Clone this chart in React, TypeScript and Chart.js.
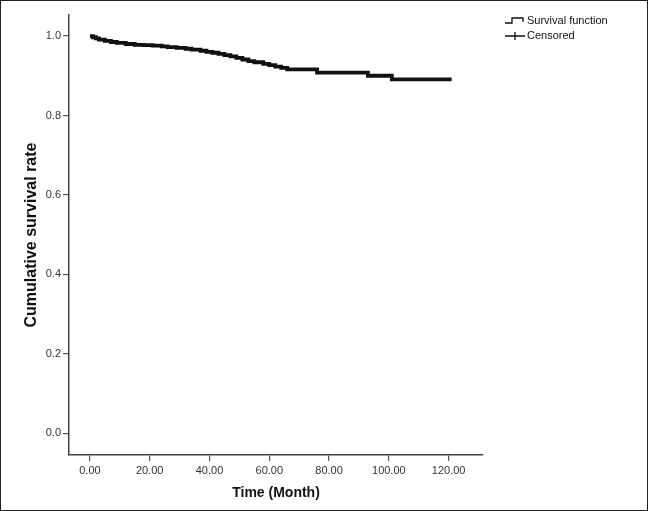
import React, { useEffect, useRef } from "react";
import { Chart, registerables } from "chart.js";
Chart.register(...registerables);

const months = [0, 1, 2, 3, 5, 7, 9, 12, 15, 18, 21, 24, 26, 29, 32, 34, 37, 39, 41, 43, 45, 47, 49, 51, 53, 55, 58, 60, 62, 64, 66, 76, 93, 101, 121];
const survival = [1.0, 0.997, 0.994, 0.991, 0.988, 0.985, 0.983, 0.98, 0.978, 0.977, 0.976, 0.974, 0.972, 0.97, 0.968, 0.966, 0.963, 0.96, 0.958, 0.955, 0.952, 0.949, 0.945, 0.941, 0.937, 0.934, 0.93, 0.927, 0.923, 0.92, 0.916, 0.908, 0.9, 0.891, 0.891];
const xTicks = [0, 20, 40, 60, 80, 100, 120];
const yTicks = [0, 0.2, 0.4, 0.6, 0.8, 1.0];
const legendLabels = ["Survival function", "Censored"];
const xTitle = "Time (Month)";
const yTitle = "Cumulative survival rate";

const FONT = '"Liberation Sans", Arial, Helvetica, sans-serif';

const decor = {
  id: "decor",
  beforeDraw(chart: any) {
    const ctx = chart.ctx;
    ctx.save();
    ctx.fillStyle = "#fff";
    ctx.fillRect(0, 0, chart.width, chart.height);
    ctx.restore();
  },
  afterDraw(chart: any) {
    const ctx = chart.ctx;
    ctx.save();
    ctx.strokeStyle = "#222";
    ctx.lineWidth = 1;
    ctx.strokeRect(0.5, 0.5, chart.width - 1, chart.height - 1);
    ctx.strokeStyle = "#111";
    ctx.lineWidth = 1.3;
    ctx.beginPath();
    ctx.moveTo(505, 23);
    ctx.lineTo(512, 23);
    ctx.lineTo(512, 18);
    ctx.lineTo(523, 18);
    ctx.lineTo(523, 22);
    ctx.stroke();
    ctx.beginPath();
    ctx.moveTo(505, 36);
    ctx.lineTo(525, 36);
    ctx.moveTo(515, 32);
    ctx.lineTo(515, 40);
    ctx.stroke();
    ctx.fillStyle = "#111";
    ctx.font = "11px " + FONT;
    ctx.textBaseline = "middle";
    ctx.textAlign = "left";
    ctx.fillText(legendLabels[0], 527, 21);
    ctx.fillText(legendLabels[1], 527, 36);
    ctx.restore();
  },
};

export default function App() {
  const ref = useRef<HTMLCanvasElement>(null);
  useEffect(() => {
    document.body.style.margin = "0";
    const chart = new Chart(ref.current as HTMLCanvasElement, {
      type: "line",
      data: {
        datasets: [
          {
            label: legendLabels[0],
            data: months.map((m, i) => ({ x: m, y: survival[i] })),
            stepped: "before",
            borderColor: "#111",
            borderWidth: 3.8,
            pointRadius: 0,
            fill: false,
          },
        ],
      },
      options: {
        animation: false,
        responsive: false,
        layout: { padding: { left: 0, top: 15, right: 165, bottom: 0 } },
        plugins: { legend: { display: false }, tooltip: { enabled: false } },
        scales: {
          x: {
            type: "linear",
            min: -7,
            max: 131.5,
            afterBuildTicks: (s: any) => {
              s.ticks = xTicks.map((v) => ({ value: v }));
            },
            afterFit: (s: any) => {
              s.height = 56;
            },
            ticks: {
              callback: (v: any) => Number(v).toFixed(2),
              font: { size: 11, family: FONT },
              color: "#333",
              padding: 3,
              maxRotation: 0,
              autoSkip: false,
            },
            grid: { drawOnChartArea: false, tickLength: 6, color: "#555", lineWidth: 1.2 },
            border: { color: "#444", width: 1.5 },
            title: {
              display: true,
              text: xTitle,
              font: { size: 14, weight: "bold", family: FONT },
              color: "#111",
              padding: { top: 4, bottom: 9.6 },
            },
          },
          y: {
            type: "linear",
            min: -0.055,
            max: 1.053,
            afterBuildTicks: (s: any) => {
              s.ticks = yTicks.map((v) => ({ value: v }));
            },
            afterFit: (s: any) => {
              s.width = 69;
            },
            ticks: {
              callback: (v: any) => Number(v).toFixed(1),
              font: { size: 11, family: FONT },
              color: "#333",
              padding: 2,
              autoSkip: false,
            },
            grid: { drawOnChartArea: false, tickLength: 6, color: "#555", lineWidth: 1.2 },
            border: { color: "#444", width: 1.5 },
            title: {
              display: true,
              text: yTitle,
              font: { size: 16, weight: "bold", family: FONT },
              color: "#111",
              padding: { top: 22, bottom: 0 },
            },
          },
        },
      },
      plugins: [decor],
    } as any);
    return () => chart.destroy();
  }, []);
  return (
    <div style={{ position: "absolute", left: 0, top: 0, width: 648, height: 511 }}>
      <canvas ref={ref} width={648} height={511} style={{ display: "block" }} />
    </div>
  );
}
